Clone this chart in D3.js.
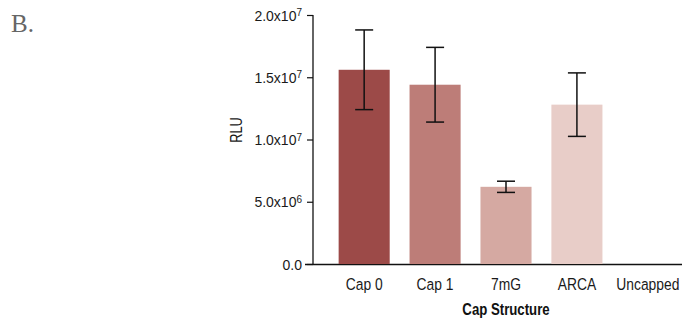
<!DOCTYPE html>
<html>
<head>
<meta charset="utf-8">
<script src="https://cdn.jsdelivr.net/npm/d3@7"></script>
<style>
  body { margin: 0; background: #fff; }
  svg { display: block; }
</style>
</head>
<body>
<div id="chart"></div>
<script>
// data
let categories = ['Cap 0', 'Cap 1', '7mG', 'ARCA', 'Uncapped'];
let values = [15.6e6, 14.4e6, 6.2e6, 12.8e6, 0];
let errors = [3.2e6, 3.0e6, 0.45e6, 2.55e6, 0];
let colors = ['#9c4a48', '#bd7d78', '#d5a9a2', '#e8cdc8', '#f2e4e2'];
let yTicks = [0, 5e6, 1e7, 1.5e7, 2e7];
let yTickLabels = ['0.0', '5.0x10^6', '1.0x10^7', '1.5x10^7', '2.0x10^7'];

let svgWidth = 682;
let svgHeight = 320;

let svg = d3.select('#chart').append('svg')
    .attr('width', svgWidth)
    .attr('height', svgHeight);

let font = '"Liberation Sans", Arial, sans-serif';

// panel letter
svg.append('text')
    .attr('x', 11)
    .attr('y', 32)
    .attr('font-family', '"Liberation Serif", "DejaVu Serif", serif')
    .attr('font-size', '25px')
    .attr('fill', '#666')
    .text('B.');

let x = d3.scaleBand()
    .domain(categories)
    .range([328, 684])
    .paddingInner(0.28)
    .paddingOuter(0.15);

let y = d3.scaleLinear()
    .domain([0, 2e7])
    .range([264, 15]);

// y axis
let yAxis = svg.append('g')
    .attr('transform', 'translate(313,0)')
    .call(d3.axisLeft(y).tickValues(yTicks).tickSize(6).tickPadding(4).tickFormat(() => ''));

yAxis.select('.domain').attr('stroke', '#111').attr('stroke-width', 1.3).attr('d', 'M0,15V264');
yAxis.selectAll('.tick line').attr('stroke', '#111').attr('stroke-width', 1.2);

// tick labels with superscript exponents
yAxis.selectAll('.tick').each(function (d, i) {
    let t = d3.select(this).select('text')
        .attr('font-family', font)
        .attr('font-size', '14px')
        .attr('fill', '#1a1a1a')
        .attr('x', -11)
        .attr('dy', '0.36em');
    let parts = yTickLabels[i].split('^');
    t.text(parts[0]);
    if (parts[1]) {
        t.append('tspan')
            .attr('dy', '-0.45em')
            .attr('font-size', '10px')
            .text(parts[1]);
    }
});

// x axis line
svg.append('line')
    .attr('x1', 305)
    .attr('x2', 682)
    .attr('y1', 264.5)
    .attr('y2', 264.5)
    .attr('stroke', '#111')
    .attr('stroke-width', 1.3);

// bars
svg.selectAll('.bar')
    .data(values)
    .enter()
    .append('rect')
    .attr('class', 'bar')
    .attr('x', (d, i) => x(categories[i]))
    .attr('width', x.bandwidth())
    .attr('y', d => y(d))
    .attr('height', d => y(0) - y(d))
    .attr('fill', (d, i) => colors[i]);

// error bars
values.forEach(function (v, i) {
    if (errors[i] <= 0) return;
    let cx = x(categories[i]) + x.bandwidth() / 2;
    let g = svg.append('g').attr('stroke', '#111').attr('stroke-width', 1.5);
    g.append('line').attr('x1', cx).attr('x2', cx)
        .attr('y1', y(v + errors[i])).attr('y2', y(v - errors[i]));
    g.append('line').attr('x1', cx - 9).attr('x2', cx + 9)
        .attr('y1', y(v + errors[i])).attr('y2', y(v + errors[i]));
    g.append('line').attr('x1', cx - 9).attr('x2', cx + 9)
        .attr('y1', y(v - errors[i])).attr('y2', y(v - errors[i]));
});

// category labels (condensed)
svg.selectAll('.cat')
    .data(categories)
    .enter()
    .append('text')
    .attr('transform', d => `translate(${x(d) + x.bandwidth() / 2},290) scale(0.84,1)`)
    .attr('text-anchor', 'middle')
    .attr('font-family', font)
    .attr('font-size', '16.5px')
    .attr('fill', '#1a1a1a')
    .text(d => d);

// axis titles
svg.append('text')
    .attr('transform', 'translate(506,315) scale(0.8,1)')
    .attr('text-anchor', 'middle')
    .attr('font-family', font)
    .attr('font-size', '16.5px')
    .attr('font-weight', 'bold')
    .attr('fill', '#111')
    .text('Cap Structure');

svg.append('text')
    .attr('transform', 'translate(242,130) rotate(-90) scale(0.8,1)')
    .attr('text-anchor', 'middle')
    .attr('font-family', font)
    .attr('font-size', '16px')
    .attr('fill', '#1a1a1a')
    .text('RLU');
</script>
</body>
</html>
